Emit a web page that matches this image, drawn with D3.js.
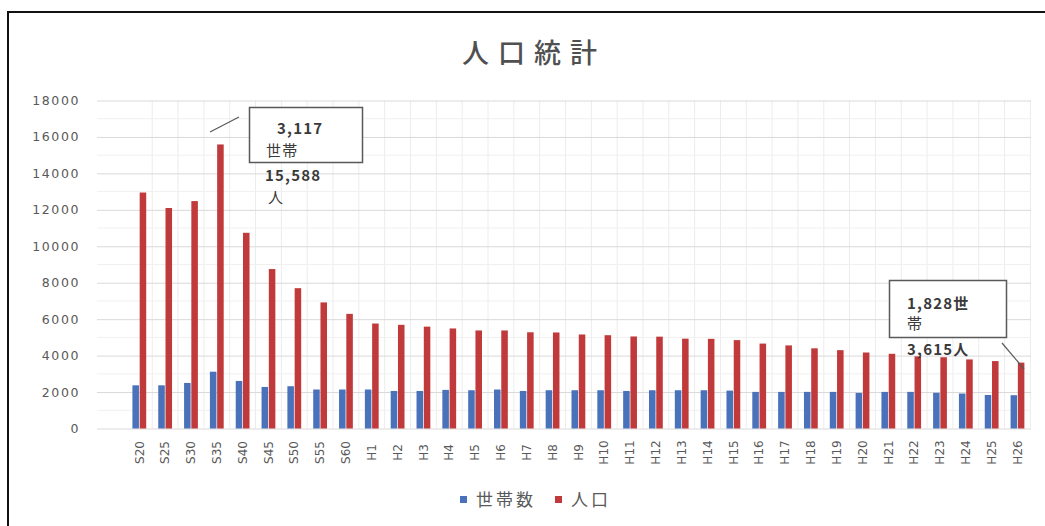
<!DOCTYPE html>
<html>
<head>
<meta charset="utf-8">
<script src="https://cdn.jsdelivr.net/npm/d3@7"></script>
<style>
  html, body { margin: 0; padding: 0; background: #fff; }
  svg { display: block; }
</style>
</head>
<body>
<div id="chart"></div>
<script>
const categories = ['S20', 'S25', 'S30', 'S35', 'S40', 'S45', 'S50', 'S55', 'S60',
  'H1', 'H2', 'H3', 'H4', 'H5', 'H6', 'H7', 'H8', 'H9', 'H10', 'H11', 'H12', 'H13',
  'H14', 'H15', 'H16', 'H17', 'H18', 'H19', 'H20', 'H21', 'H22', 'H23', 'H24', 'H25', 'H26'];

// 世帯数
const households = [2370, 2370, 2500, 3117, 2610, 2280, 2320, 2140, 2140,
  2140, 2060, 2060, 2120, 2100, 2140, 2060, 2100, 2100, 2100, 2060, 2100, 2100,
  2100, 2080, 2010, 2010, 2010, 2010, 1955, 2010, 2010, 1960, 1920, 1840, 1828];

// 人口
const population = [12950, 12100, 12480, 15588, 10740, 8750, 7700, 6920, 6290,
  5760, 5690, 5590, 5490, 5380, 5380, 5280, 5270, 5160, 5120, 5050, 5040, 4930,
  4920, 4850, 4660, 4560, 4400, 4300, 4170, 4100, 3960, 3910, 3790, 3700, 3615];

const seriesNames = ['世帯数', '人口'];
const yTicks = [0, 2000, 4000, 6000, 8000, 10000, 12000, 14000, 16000, 18000];

const W = 1045, H = 526;
const blue = '#4a72ba', red = '#c0393b';
const textGray = '#595959';

const svg = d3.select('#chart').append('svg')
  .attr('width', W)
  .attr('height', H);

svg.append('rect').attr('width', W).attr('height', H).attr('fill', '#fff');

// outer frame (left + top edges visible)
svg.append('rect')
  .attr('x', 8).attr('y', 12)
  .attr('width', W + 10).attr('height', H + 10)
  .attr('fill', 'none')
  .attr('stroke', '#111')
  .attr('stroke-width', 2);

// title
svg.append('text')
  .attr('x', 534).attr('y', 63)
  .attr('text-anchor', 'middle')
  .attr('font-family', '"Noto Sans CJK JP", sans-serif')
  .attr('font-size', 27)
  .attr('font-weight', 500)
  .attr('letter-spacing', 9)
  .attr('fill', '#505050')
  .text('人口統計');

const plotLeft = 97, plotRight = 1031;

const x = d3.scaleBand()
  .domain(categories)
  .range([126.4, 1030.4]);

const xs = d3.scaleBand()
  .domain(seriesNames)
  .range([-6.9, 6.9])
  .paddingInner(0.1);

const y = d3.scaleLinear()
  .domain([0, 18000])
  .range([428.5, 100.5]);

// vertical grid at category boundaries
const g = svg.append('g');
g.selectAll('.vgrid')
  .data(categories)
  .enter().append('line')
  .attr('x1', d => x(d) + x.bandwidth())
  .attr('x2', d => x(d) + x.bandwidth())
  .attr('y1', y(18000)).attr('y2', y(0))
  .attr('stroke', '#ececec')
  .attr('stroke-width', 1);

// minor horizontal grid
g.selectAll('.hminor')
  .data(d3.range(1000, 18000, 2000))
  .enter().append('line')
  .attr('x1', plotLeft).attr('x2', plotRight)
  .attr('y1', d => y(d)).attr('y2', d => y(d))
  .attr('stroke', '#f0f0f0');

// y axis
const yAxis = svg.append('g')
  .attr('transform', `translate(${plotLeft},0)`)
  .call(d3.axisLeft(y).tickValues(yTicks).tickFormat(d3.format('d'))
    .tickSize(-(plotRight - plotLeft)).tickPadding(17));
yAxis.select('.domain').remove();
yAxis.selectAll('.tick line').attr('stroke', '#d9d9d9');
yAxis.selectAll('.tick text')
  .attr('fill', textGray)
  .attr('font-family', '"DejaVu Sans", sans-serif')
  .attr('font-size', 12.5)
  .attr('letter-spacing', 1.6);

// x axis
const xAxis = svg.append('g')
  .attr('transform', `translate(0,${y(0)})`)
  .call(d3.axisBottom(x).tickSize(0).tickPadding(0));
xAxis.select('.domain').remove();
xAxis.selectAll('.tick text')
  .attr('fill', textGray)
  .attr('font-family', '"DejaVu Sans", sans-serif')
  .attr('font-size', 12)
  .attr('text-anchor', 'middle')
  .attr('dy', '0.35em')
  .attr('transform', 'translate(0,24) rotate(-90)');

// bars
const bars = svg.append('g');
bars.selectAll('.bar-h')
  .data(categories)
  .enter().append('rect')
  .attr('class', 'bar-h')
  .attr('x', d => x(d) + x.bandwidth() / 2 + xs(seriesNames[0]))
  .attr('width', xs.bandwidth())
  .attr('y', (d, i) => y(households[i]))
  .attr('height', (d, i) => y(0) - y(households[i]))
  .attr('fill', blue);

bars.selectAll('.bar-p')
  .data(categories)
  .enter().append('rect')
  .attr('class', 'bar-p')
  .attr('x', d => x(d) + x.bandwidth() / 2 + xs(seriesNames[1]))
  .attr('width', xs.bandwidth())
  .attr('y', (d, i) => y(population[i]))
  .attr('height', (d, i) => y(0) - y(population[i]))
  .attr('fill', red);

// callouts
const fmt = d3.format(',');
const font = '"Noto Sans CJK JP", sans-serif';

function callout(opts) {
  const c = svg.append('g');
  c.append('line')
    .attr('x1', opts.line[0]).attr('y1', opts.line[1])
    .attr('x2', opts.line[2]).attr('y2', opts.line[3])
    .attr('stroke', textGray).attr('stroke-width', 1.2);
  c.append('rect')
    .attr('x', opts.box[0]).attr('y', opts.box[1])
    .attr('width', opts.box[2]).attr('height', opts.box[3])
    .attr('fill', '#fff')
    .attr('stroke', textGray)
    .attr('stroke-width', 1.5);
  opts.lines.forEach(l => {
    c.append('text')
      .attr('x', l.x).attr('y', l.y)
      .attr('font-family', font)
      .attr('font-size', 15)
      .attr('font-weight', l.bold ? 'bold' : 'normal')
      .attr('letter-spacing', 1.2)
      .attr('fill', '#3a3a3a')
      .text(l.t);
  });
}

const iS35 = categories.indexOf('S35');
const iH26 = categories.indexOf('H26');

callout({
  line: [210, 132, 239, 117],
  box: [249.5, 107.5, 113, 55],
  lines: [
    { x: 277, y: 134, t: fmt(households[iS35]), bold: true },
    { x: 266, y: 156, t: '世帯' },
    { x: 265, y: 181, t: fmt(population[iS35]), bold: true },
    { x: 268, y: 203, t: '人' }
  ]
});

callout({
  line: [1002, 343, 1024, 369],
  box: [889.5, 280.5, 117, 57],
  lines: [
    { x: 907, y: 309, t: fmt(households[iH26]) + '世', bold: true },
    { x: 907, y: 329, t: '帯' },
    { x: 907, y: 355, t: fmt(population[iH26]) + '人', bold: true }
  ]
});

// legend
const legend = svg.append('g');
const legendItems = [
  { name: seriesNames[0], color: blue, x: 460 },
  { name: seriesNames[1], color: red, x: 555 }
];
legendItems.forEach(it => {
  legend.append('rect')
    .attr('x', it.x).attr('y', 496)
    .attr('width', 7).attr('height', 7)
    .attr('fill', it.color);
  legend.append('text')
    .attr('x', it.x + 16).attr('y', 506)
    .attr('font-family', font)
    .attr('font-size', 17)
    .attr('letter-spacing', 3)
    .attr('fill', textGray)
    .text(it.name);
});
</script>
</body>
</html>
